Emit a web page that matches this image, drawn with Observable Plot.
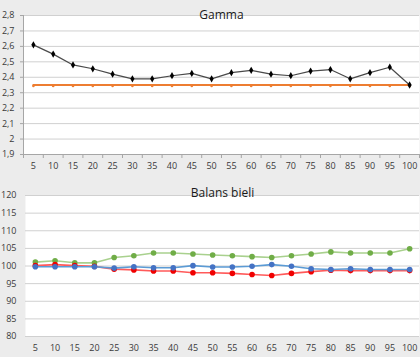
<!DOCTYPE html>
<html>
<head>
<meta charset="utf-8">
<script src="https://cdn.jsdelivr.net/npm/d3@7"></script>
<script src="https://cdn.jsdelivr.net/npm/@observablehq/plot@0.6"></script>
<style>
  html, body { margin: 0; padding: 0; background: #ececec; }
  #wrap { width: 420px; height: 357px; overflow: hidden; }
  #wrap svg { display: block; }
</style>
</head>
<body>
<div id="wrap"></div>
<script>
const categories = [5, 10, 15, 20, 25, 30, 35, 40, 45, 50, 55, 60, 65, 70, 75, 80, 85, 90, 95, 100];
const gamma = [2.61, 2.55, 2.48, 2.455, 2.42, 2.39, 2.39, 2.41, 2.425, 2.39, 2.43, 2.445, 2.42, 2.41, 2.44, 2.45, 2.39, 2.43, 2.465, 2.35];
const gammaTarget = [2.35, 2.35, 2.35, 2.35, 2.35, 2.35, 2.35, 2.35, 2.35, 2.35, 2.35, 2.35, 2.35, 2.35, 2.35, 2.35, 2.35, 2.35, 2.35, 2.35];
const balansGreen = [101.1, 101.5, 100.9, 100.9, 102.4, 102.9, 103.7, 103.7, 103.4, 103.1, 102.9, 102.65, 102.4, 102.9, 103.4, 104.0, 103.7, 103.7, 103.7, 104.9];
const balansRed = [100.1, 100.4, 100.1, 99.9, 99.1, 98.9, 98.6, 98.6, 98.1, 98.1, 97.9, 97.6, 97.3, 97.9, 98.4, 98.8, 98.7, 98.7, 98.7, 98.7];
const balansBlue = [99.8, 99.8, 99.8, 99.8, 99.4, 99.8, 99.5, 99.5, 100.1, 99.7, 99.7, 99.95, 100.4, 99.95, 99.2, 99.0, 99.2, 99.0, 99.0, 99.0];
const gammaTicks = [1.9, 2.0, 2.1, 2.2, 2.3, 2.4, 2.5, 2.6, 2.7, 2.8];
const balansTicks = [80, 85, 90, 95, 100, 105, 110, 115, 120];
const gammaTitle = "Gamma";
const balansTitle = "Balans bieli";

const step = categories[1] - categories[0];
const xDomain = [categories[0] - step / 2, categories[categories.length - 1] + step / 2];
const boundaries = [...categories.map(c => c - step / 2), categories[categories.length - 1] + step / 2];
const rows = (vals) => categories.map((c, i) => ({x: c, y: vals[i]}));
const commaFmt = d => String(+d.toFixed(1)).replace(".", ",");
const FONT = "'Open Sans', 'DejaVu Sans', sans-serif";
const TXT = "#3a3a3a";

const gammaChart = Plot.plot({
  width: 420, height: 175,
  marginTop: 15, marginBottom: 21, marginLeft: 23, marginRight: 1,
  style: {background: "transparent", fontFamily: FONT, fontSize: "9px", color: TXT},
  x: {type: "linear", domain: xDomain},
  y: {domain: [gammaTicks[0], gammaTicks[gammaTicks.length - 1]]},
  marks: [
    Plot.frame({fill: "white", stroke: null}),
    Plot.gridY(gammaTicks, {stroke: "#d0d0d0", strokeOpacity: 1}),
    Plot.ruleX([xDomain[0]], {stroke: "#a6a6a6"}),
    Plot.ruleY([gammaTicks[0]], {stroke: "#a6a6a6"}),
    Plot.axisX({ticks: boundaries, tickSize: 4, tickFormat: () => "", stroke: "#a6a6a6", label: null}),
    Plot.axisX({ticks: categories, tickSize: 0, tickPadding: 8, fill: TXT, label: null}),
    Plot.axisY({ticks: gammaTicks, tickSize: 3, tickPadding: 6, tickFormat: commaFmt, stroke: "#a6a6a6", fill: TXT, label: null}),
    Plot.line(rows(gammaTarget), {x: "x", y: "y", stroke: "#ed7d31", strokeWidth: 2.2}),
    Plot.dot(rows(gammaTarget), {x: "x", y: "y", fill: "#ed7d31", r: 1.3, dy: 1}),
    Plot.line(rows(gamma), {x: "x", y: "y", stroke: "#4a4a4a", strokeWidth: 1.2}),
    Plot.dot(rows(gamma), {x: "x", y: "y", symbol: "diamond", fill: "#000", r: 2.2}),
    Plot.text([gammaTitle], {frameAnchor: "top", dy: -5, fontSize: 12, fill: "#1a1a1a", fontFamily: FONT})
  ]
});

const balansChart = Plot.plot({
  width: 420, height: 182,
  marginTop: 20, marginBottom: 21, marginLeft: 25, marginRight: 1,
  style: {background: "transparent", fontFamily: FONT, fontSize: "9px", color: TXT},
  x: {type: "linear", domain: xDomain},
  y: {domain: [balansTicks[0], balansTicks[balansTicks.length - 1]]},
  marks: [
    Plot.frame({fill: "white", stroke: null}),
    Plot.gridY(balansTicks, {stroke: "#d0d0d0", strokeOpacity: 1}),
    Plot.axisX({ticks: categories, tickSize: 0, tickPadding: 8.5, fill: TXT, label: null}),
    Plot.axisY({ticks: balansTicks, tickSize: 0, tickPadding: 9, fill: TXT, label: null}),
    Plot.line(rows(balansGreen), {x: "x", y: "y", stroke: "#a9d18e", strokeWidth: 1.6}),
    Plot.dot(rows(balansGreen), {x: "x", y: "y", fill: "#70ad47", r: 2.8}),
    Plot.line(rows(balansRed), {x: "x", y: "y", stroke: "#ff5a5a", strokeWidth: 1.6}),
    Plot.dot(rows(balansRed), {x: "x", y: "y", fill: "#f00000", r: 2.8}),
    Plot.line(rows(balansBlue), {x: "x", y: "y", stroke: "#5b9bd5", strokeWidth: 1.6}),
    Plot.dot(rows(balansBlue), {x: "x", y: "y", fill: "#4472c4", r: 2.8}),
    Plot.text([balansTitle], {frameAnchor: "top", dy: -7, fontSize: 12, fill: "#1a1a1a", fontFamily: FONT})
  ]
});

const wrap = document.getElementById("wrap");
wrap.appendChild(gammaChart);
wrap.appendChild(balansChart);
</script>
</body>
</html>
